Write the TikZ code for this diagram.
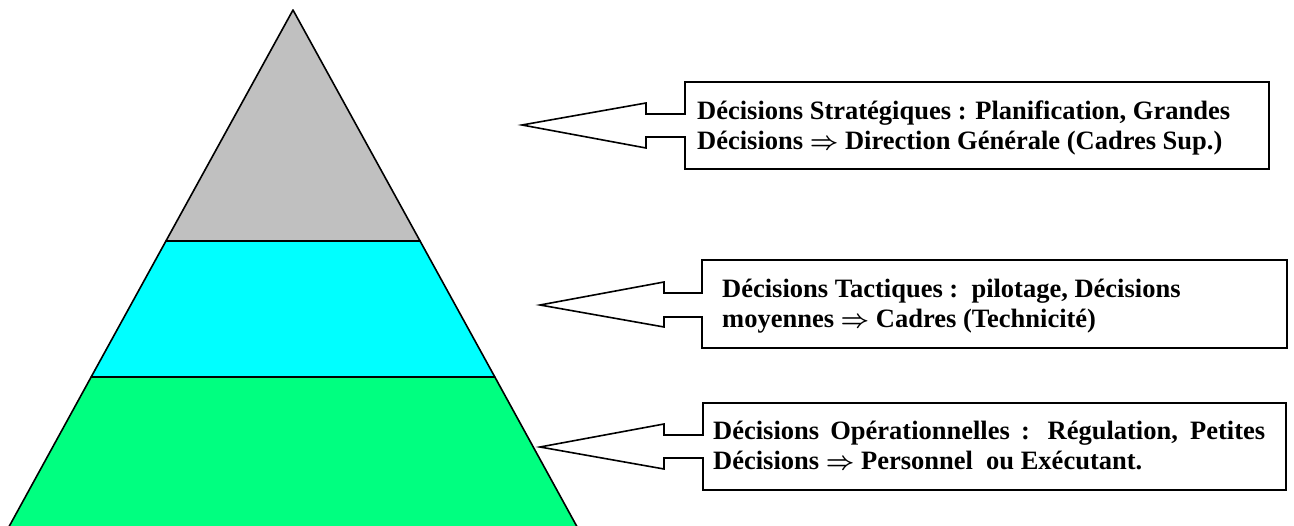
\documentclass[tikz,border=0pt]{standalone}
\usepackage{fontspec}
\setmainfont{Liberation Serif}
\definecolor{lvlgray}{RGB}{192,192,192}
\definecolor{lvlcyan}{RGB}{0,255,255}
\definecolor{lvlgreen}{RGB}{0,255,128}
\newcommand{\implarrow}{{\boldmath$\Rightarrow$}}
\tikzset{
  band/.style={draw=black, line width=1.6pt, line join=round},
  callout/.style={draw=black, line width=1.6pt, fill=white, line join=miter},
  lbl/.style={anchor=base west, inner sep=0pt, font=\fontsize{26.5}{30}\selectfont\bfseries}
}
\begin{document}
\begin{tikzpicture}[x=1pt,y=-1pt]
\useasboundingbox (0,0) rectangle (1294,526);
\begin{scope}
\clip (0,0) rectangle (1294,526);
% pyramid apex (293,10), slope 0.55
\coordinate (apex) at (293,10);
\coordinate (l1) at (165.95,241); \coordinate (r1) at (420.05,241);
\coordinate (l2) at (91.15,377);  \coordinate (r2) at (494.85,377);
\coordinate (l3) at (3.35,537);   \coordinate (r3) at (582.65,537);
\filldraw[band, fill=lvlgray] (apex) -- (r1) -- (l1) -- cycle;
\filldraw[band, fill=lvlcyan] (l1) -- (r1) -- (r2) -- (l2) -- cycle;
\filldraw[band, fill=lvlgreen] (l2) -- (r2) -- (r3) -- (l3) -- cycle;
\end{scope}
% callout 1
\draw[callout] (522,125) -- (646,103) -- (646,114) -- (685,114) -- (685,82) -- (1269,82)
  -- (1269,169) -- (685,169) -- (685,137) -- (646,137) -- (646,148) -- cycle;
\node[lbl] (s1) at (697,120) {Décisions Stratégiques : Planification, Grandes};
\node[lbl] (s2) at (697,150) {Décisions \implarrow{} Direction Générale (Cadres Sup.)};
% callout 2
\draw[callout] (540,305) -- (664,282) -- (664,293) -- (702,293) -- (702,260) -- (1287,260)
  -- (1287,348) -- (702,348) -- (702,317) -- (664,317) -- (664,327) -- cycle;
\node[lbl] (t1) at (722,298) {Décisions Tactiques :\ \ pilotage, Décisions};
\node[lbl] (t2) at (722,328) {moyennes \implarrow{} Cadres (Technicité)};
% callout 3
\draw[callout] (540,447) -- (664,424) -- (664,435) -- (703,435) -- (703,403) -- (1286,403)
  -- (1286,490) -- (703,490) -- (703,458) -- (664,458) -- (664,469) -- cycle;
\node[lbl] (o1) at (713,440) {\makebox[552pt][s]{Décisions Opérationnelles : Régulation, Petites}};
\node[lbl] (o2) at (713,470) {Décisions \implarrow{} Personnel\ \ ou Exécutant.};
\end{tikzpicture}
\end{document}
